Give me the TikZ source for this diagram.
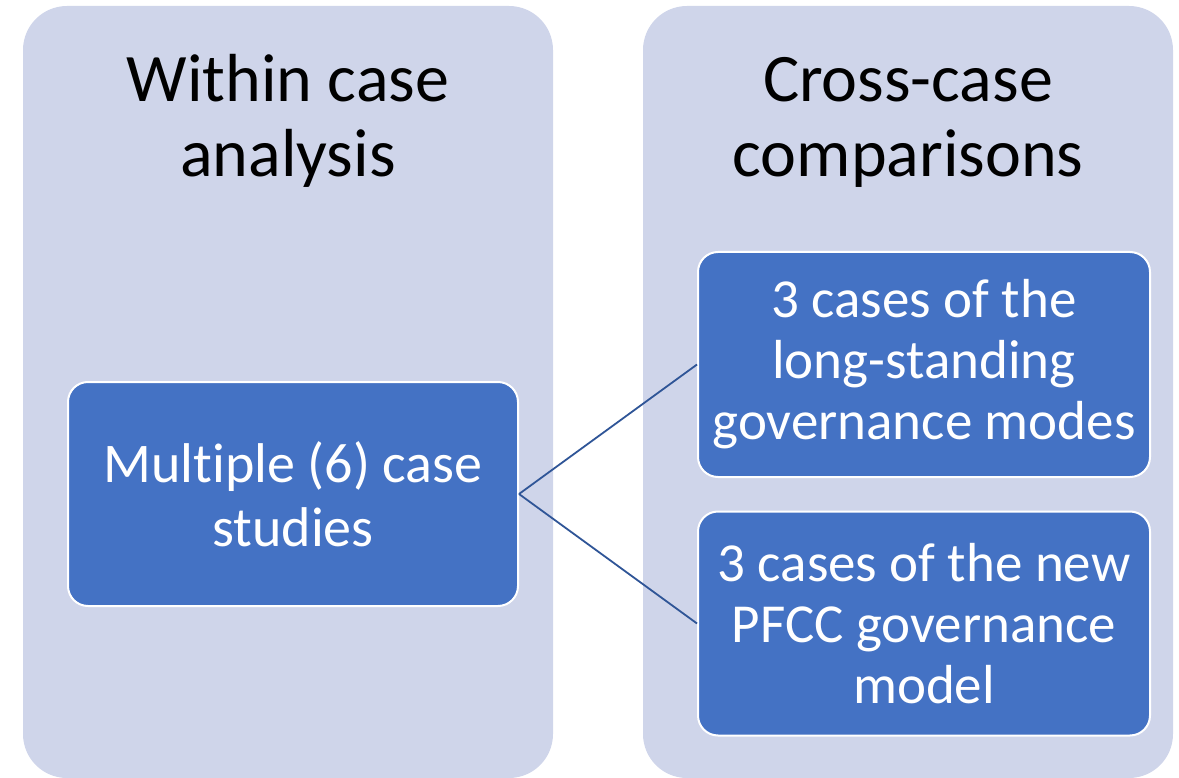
\documentclass[tikz,border=0pt]{standalone}
\usepackage{fontspec}
\setmainfont[Ligatures=NoCommon]{Carlito}
\definecolor{colbg}{HTML}{CFD5EA}
\definecolor{boxblue}{HTML}{4472C4}
\definecolor{linkblue}{HTML}{2F5597}
\begin{document}
\begin{tikzpicture}[x=1pt,y=-1pt,
  column/.style={fill=colbg, draw=none, rounded corners=44pt, inner sep=0pt, minimum width=530pt, minimum height=772pt},
  title/.style={anchor=base, align=center, text=black, font=\fontsize{68}{75}\selectfont},
  bluebox/.style={fill=boxblue, draw=white, line width=2pt, rounded corners=20pt, inner sep=0pt, text=white, align=center},
  link/.style={draw=linkblue, line width=1.8pt}]
\useasboundingbox (0,0) rectangle (1179,778);
\node[column] (colL) at (288,392) {};
\node[column] (colR) at (908,392) {};
\node[title] (tL) at (288,177) {Within case\\analysis};
\node[title] (tR) at (908,177) {Cross-case\\comparisons};
\node[bluebox, minimum width=450pt, minimum height=224pt, font=\fontsize{56}{64}\selectfont] (mc) at (293,494) {Multiple (6) case\\studies};
\node[bluebox, minimum width=452pt, minimum height=225pt, font=\fontsize{55}{61}\selectfont] (lt) at (924,364.5) {3 cases of the\\long-standing\\governance modes};
\node[bluebox, minimum width=452pt, minimum height=224pt, font=\fontsize{55}{61}\selectfont] (nw) at (924,623.5) {3 cases of the new\\PFCC governance\\model};
\draw[link] (mc.east) -- (lt.west);
\draw[link] (mc.east) -- (nw.west);
\end{tikzpicture}
\end{document}
